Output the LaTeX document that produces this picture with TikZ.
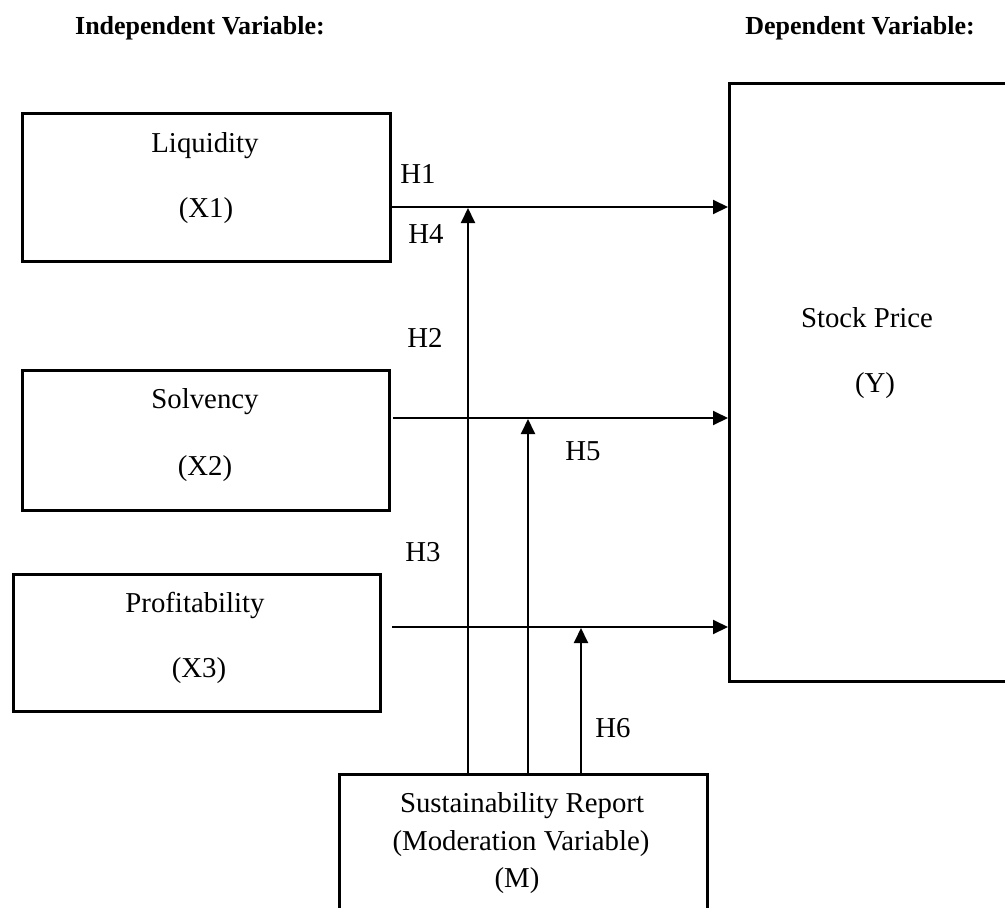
\documentclass[tikz,border=0pt]{standalone}
\usepackage{fontspec}
\setmainfont{Liberation Serif}
\usetikzlibrary{arrows.meta}
\begin{document}
\begin{tikzpicture}[x=1pt,y=-1pt,
  box/.style={draw,line width=3pt,inner sep=0pt},
  txt/.style={anchor=base,inner sep=0pt,font=\fontsize{28.8}{34}\selectfont},
  hdr/.style={anchor=base,inner sep=0pt,font=\fontsize{26}{31}\selectfont\bfseries},
  arr/.style={line width=2pt,-{Triangle[length=15pt,width=14pt]}},
  lnk/.style={line width=2pt}]
\useasboundingbox (0,0) rectangle (1005,908);
\clip (0,0) rectangle (1005,908);
% headers
\node[hdr] (hi) at (200,34) {Independent Variable:};
\node[hdr] (hd) at (860,34) {Dependent Variable:};
% boxes
\node[box,minimum width=368pt,minimum height=148pt,anchor=north west] (liq) at (21,112) {};
\node[box,minimum width=367pt,minimum height=140pt,anchor=north west] (sol) at (21,369) {};
\node[box,minimum width=367pt,minimum height=137pt,anchor=north west] (pro) at (12,573) {};
\node[box,minimum width=340pt,minimum height=598pt,anchor=north west] (stk) at (728,82) {};
\node[box,minimum width=368pt,minimum height=200pt,anchor=north west] (mod) at (338,773) {};
% box texts
\node[txt] (liqa) at (205,152) {Liquidity};
\node[txt] (liqb) at (206,217) {(X1)};
\node[txt] (sola) at (205,408) {Solvency};
\node[txt] (solb) at (205,475) {(X2)};
\node[txt] (proa) at (195,612) {Profitability};
\node[txt] (prob) at (199,677) {(X3)};
\node[txt] (stka) at (867,327) {Stock Price};
\node[txt] (stkb) at (875,392) {(Y)};
\node[txt] (moda) at (522,812) {Sustainability Report};
\node[txt] (modb) at (521,850) {(Moderation Variable)};
\node[txt] (modc) at (517,887) {(M)};
% connector points
\coordinate (s1) at (389,207);
\coordinate (e1) at (728,207);
\coordinate (s2) at (393,418);
\coordinate (e2) at (728,418);
\coordinate (s3) at (392,627);
\coordinate (e3) at (728,627);
\coordinate (m1) at (468,773);
\coordinate (t1) at (468,208);
\coordinate (m2) at (528,773);
\coordinate (t2) at (528,419);
\coordinate (m3) at (581,773);
\coordinate (t3) at (581,628);
\draw[arr] (s1) -- (e1);
\draw[arr] (s2) -- (e2);
\draw[arr] (s3) -- (e3);
\draw[arr] (m1) -- (t1);
\draw[arr] (m2) -- (t2);
\draw[arr] (m3) -- (t3);
% labels
\node[txt] (h1) at (418,183) {H1};
\node[txt] (h4) at (426,243) {H4};
\node[txt] (h2) at (425,347) {H2};
\node[txt] (h5) at (583,460) {H5};
\node[txt] (h3) at (423,561) {H3};
\node[txt] (h6) at (613,737) {H6};
\end{tikzpicture}
\end{document}
